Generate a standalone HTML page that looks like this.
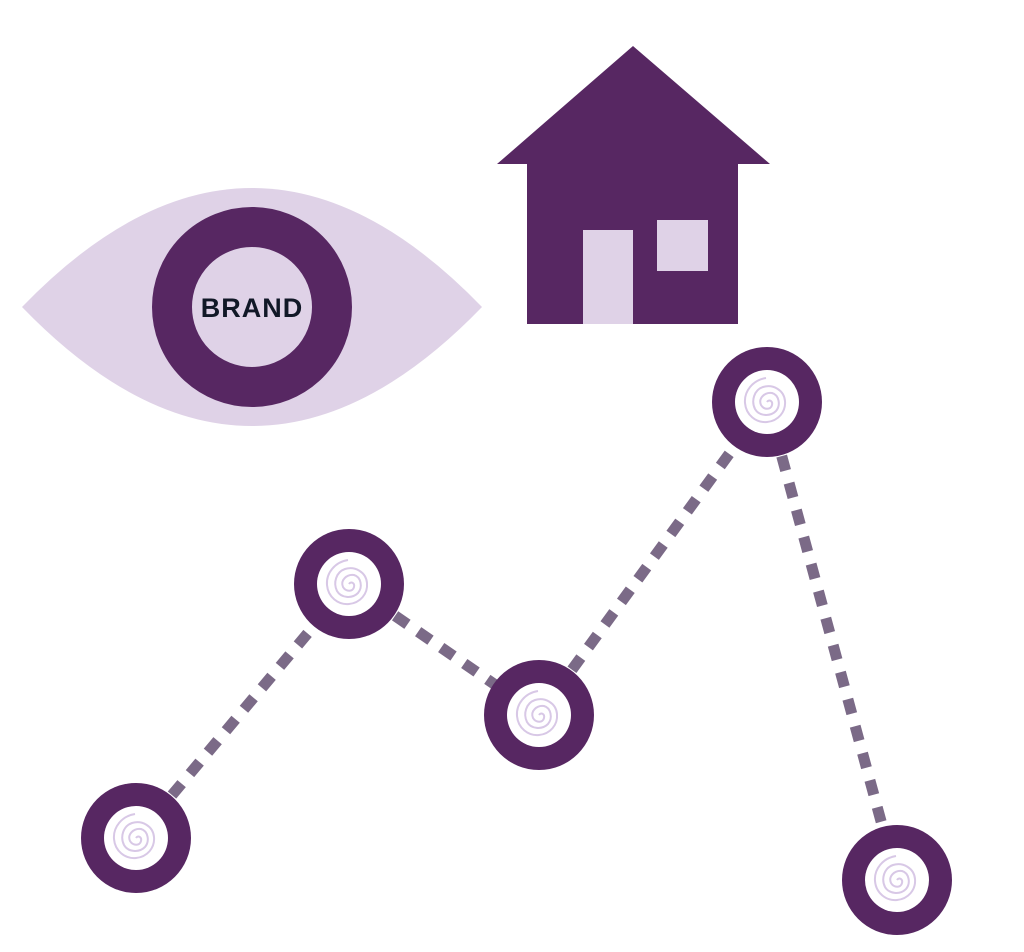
<!DOCTYPE html>
<html><head><meta charset="utf-8"><style>html,body{margin:0;padding:0;background:#fff}svg{display:block}</style></head><body>
<svg width="1024" height="952" viewBox="0 0 1024 952" xmlns="http://www.w3.org/2000/svg">
<defs>
<g id="sp"><path d="M0,0 C2,-3 6,-1 5,3 C4,8 -3,8 -6,3 C-9,-4 -2,-10 5,-9 C12,-7 14,3 9,9 C3,15 -8,14 -12,7 C-16,-1 -13,-12 -4,-15 C6,-18 17,-12 18,-1 C19,10 11,19 0,20 C-11,21 -21,13 -22,1 C-23,-11 -14,-22 -1,-24" fill="none" stroke="#d8c8e6" stroke-width="2"/></g>
<g id="node"><circle r="55" fill="#572762"/><circle r="32" fill="#fff"/><use href="#sp"/></g>
</defs>
<path d="M22,307 Q252,69 482,307 Q252,545 22,307 Z" fill="#dfd2e7"/>
<circle cx="252" cy="307" r="80" fill="none" stroke="#572762" stroke-width="40"/>
<text x="252" y="317" text-anchor="middle" font-family="Liberation Sans, sans-serif" font-weight="bold" font-size="27" fill="#111827" letter-spacing="1">BRAND</text>
<polygon points="633,46 770,164 497,164" fill="#572762"/>
<rect x="527" y="163" width="211" height="161" fill="#572762"/>
<rect x="583" y="230" width="50" height="94" fill="#dfd2e7"/>
<rect x="657" y="220" width="51" height="51" fill="#dfd2e7"/>
<g stroke="#7b6a87" stroke-width="11" stroke-dasharray="15 13" fill="none">
<line x1="136" y1="838" x2="349" y2="584"/>
<line x1="349" y1="584" x2="539" y2="715"/>
<line x1="539" y1="715" x2="767" y2="402"/>
<line x1="767" y1="402" x2="897" y2="880"/>
</g>
<use href="#node" x="136" y="838"/>
<use href="#node" x="349" y="584"/>
<use href="#node" x="539" y="715"/>
<use href="#node" x="767" y="402"/>
<use href="#node" x="897" y="880"/>
</svg>
</body></html>
